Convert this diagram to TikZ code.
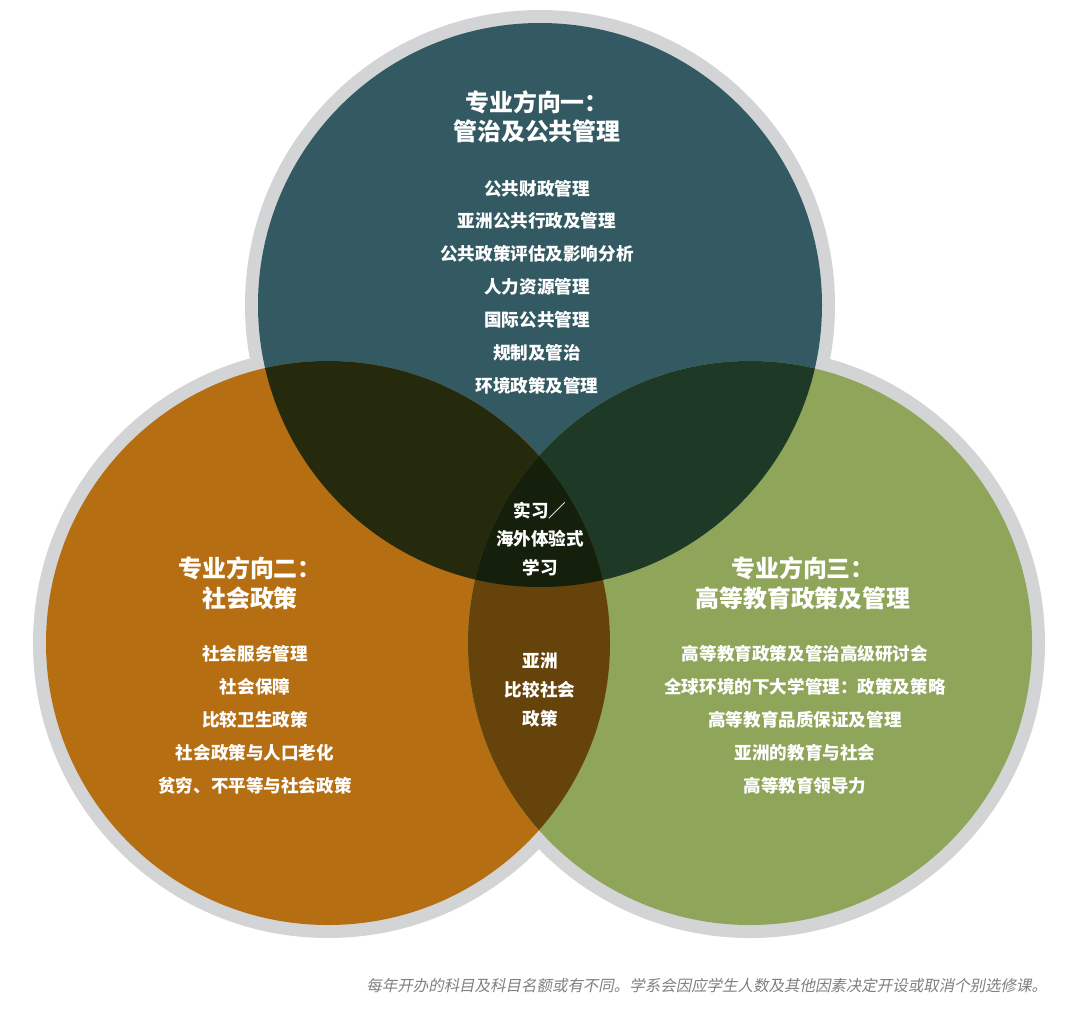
\documentclass[tikz,border=0pt]{standalone}
\usepackage{fontspec}
\setmainfont{Noto Sans CJK SC}
\newfontfamily\notefont[FakeSlant=0.2]{Noto Sans CJK SC}
\usepackage{tikz}
\usetikzlibrary{positioning}
\definecolor{ringgray}{HTML}{D3D4D6}
\definecolor{topc}{HTML}{335A63}
\definecolor{leftc}{HTML}{B56E12}
\definecolor{rightc}{HTML}{8FA55A}
\definecolor{tlc}{HTML}{262A0C}
\definecolor{trc}{HTML}{1E3A26}
\definecolor{lrc}{HTML}{65430A}
\definecolor{midc}{HTML}{15200C}
\tikzset{
  head/.style={text=white, font=\fontsize{17}{21}\selectfont\bfseries, align=center},
  item/.style={text=white, font=\fontsize{12.5}{23.4}\selectfont\bfseries, align=center},
}
\begin{document}
\begin{tikzpicture}[x=0.025cm,y=-0.025cm]
    \useasboundingbox[fill=white] (0,0) rectangle (1080,1021);
    % outer rings
    \fill[ringgray] (540,305) circle (295);
    \fill[ringgray] (328,643) circle (295);
    \fill[ringgray] (750,643) circle (295);
    % circles
    \fill[topc] (540,305) circle (282);
    \fill[leftc] (328,643) circle (282);
    \fill[rightc] (750,643) circle (282);
    % overlaps
    \begin{scope}
        \clip (540,305) circle (282);
        \fill[tlc] (328,643) circle (282);
    \end{scope}
    \begin{scope}
        \clip (540,305) circle (282);
        \fill[trc] (750,643) circle (282);
    \end{scope}
    \begin{scope}
        \clip (328,643) circle (282);
        \fill[lrc] (750,643) circle (282);
    \end{scope}
    \begin{scope}
        \clip (540,305) circle (282);
        \clip (328,643) circle (282);
        \fill[midc] (750,643) circle (282);
    \end{scope}

    % texts
    \node[head] (headA) at (537,117) {专业方向一：\\管治及公共管理};
    \node[item] (listA) at (537,287) {公共财政管理\\亚洲公共行政及管理\\公共政策评估及影响分析\\人力资源管理\\国际公共管理\\规制及管治\\环境政策及管理};
    \node[head] (headB) at (250,583) {专业方向二：\\社会政策};
    \node[item] (listB) at (255,720) {社会服务管理\\社会保障\\比较卫生政策\\社会政策与人口老化\\贫穷、不平等与社会政策};
    \node[head] (headC) at (803,583) {专业方向三：\\高等教育政策及管理};
    \node[item] (listC) at (805,720) {高等教育政策及管治高级研讨会\\全球环境的下大学管理：政策及策略\\高等教育品质保证及管理\\亚洲的教育与社会\\高等教育领导力};
    \node[item, font=\fontsize{12.5}{20.5}\selectfont\bfseries] (core) at (540,539) {实习／\\海外体验式\\学习};
    \node[item, font=\fontsize{12.5}{20.5}\selectfont\bfseries] (asia) at (540,690) {亚洲\\比较社会\\政策};
    \node[anchor=east, text=gray, font=\notefont\fontsize{11}{13}\selectfont] (note) at (1052,986) {每年开办的科目及科目名额或有不同。学系会因应学生人数及其他因素决定开设或取消个别选修课。};
\end{tikzpicture}
\end{document}
